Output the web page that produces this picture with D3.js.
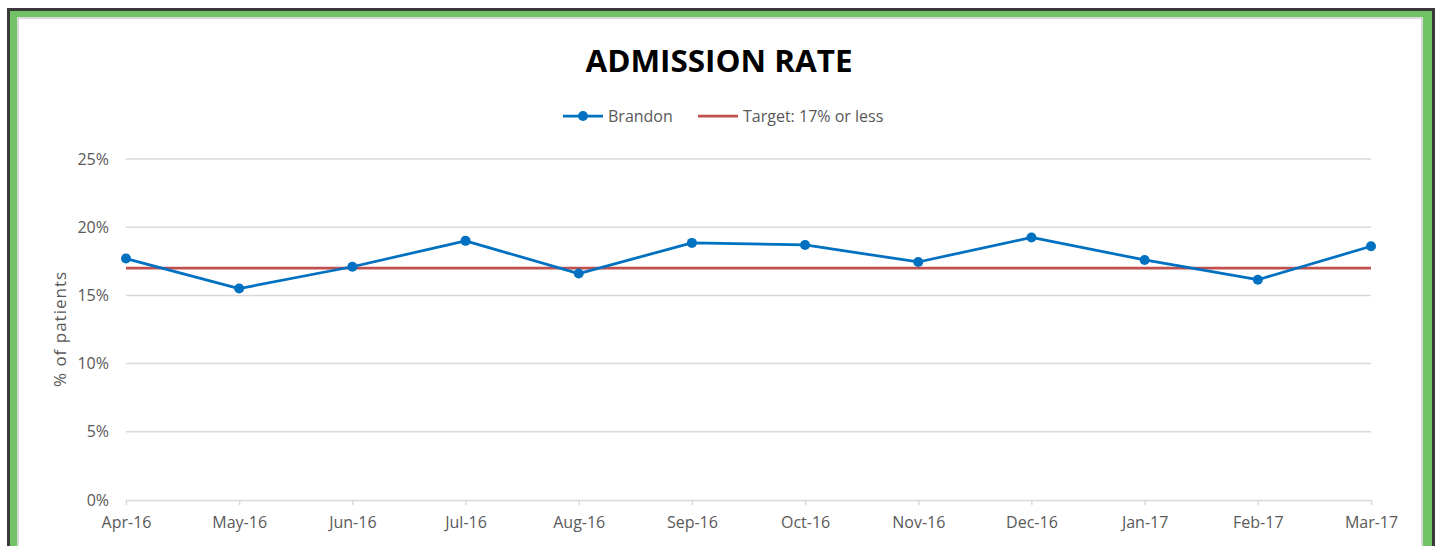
<!DOCTYPE html>
<html><head><meta charset="utf-8">
<script src="https://cdn.jsdelivr.net/npm/d3@7"></script>
<style>body{margin:0;background:#fff;overflow:hidden}svg{display:block}</style>
</head><body>
<svg id="c" width="1435" height="546"></svg>
<script>
const categories = ["Apr-16","May-16","Jun-16","Jul-16","Aug-16","Sep-16","Oct-16","Nov-16","Dec-16","Jan-17","Feb-17","Mar-17"];
const brandon = [17.7, 15.5, 17.1, 19.0, 16.6, 18.85, 18.7, 17.45, 19.25, 17.6, 16.15, 18.6];
const target = [17,17,17,17,17,17,17,17,17,17,17,17];
const yTicks = [0,5,10,15,20,25];
const seriesNames = ["Brandon","Target: 17% or less"];

const svg = d3.select("#c");
const font = "'Open Sans', 'Liberation Sans', sans-serif";
// frame
svg.append("rect").attr("x",7).attr("y",8).attr("width",1440).attr("height",560).attr("fill","#3a3a3a");
svg.append("rect").attr("x",10).attr("y",11).attr("width",1422).attr("height",560).attr("fill","#72c266");
svg.append("rect").attr("x",17).attr("y",17).attr("width",1406).attr("height",560).attr("fill","#d9d9d9");
svg.append("rect").attr("x",19).attr("y",19).attr("width",1402).attr("height",560).attr("fill","#ffffff");

const x = d3.scalePoint().domain(categories).range([126,1371]);
const y = d3.scaleLinear().domain([0,25]).range([500,159]);

// gridlines
svg.append("g").selectAll("line").data(yTicks.filter(d=>d>0)).join("line")
  .attr("x1",126).attr("x2",1371).attr("y1",d=>y(d)).attr("y2",d=>y(d))
  .attr("stroke","#d9d9d9").attr("stroke-width",1.5);

// y axis labels
const yAxis = svg.append("g").attr("transform","translate(126,0)")
  .call(d3.axisLeft(y).tickValues(yTicks).tickFormat(d=>d+"%").tickSize(0).tickPadding(17));
yAxis.select(".domain").remove();
yAxis.selectAll("text").attr("fill","#595959").style("font-family",font).style("font-size","16px");

// x axis
const xAxis = svg.append("g").attr("transform","translate(0,500)")
  .call(d3.axisBottom(x).tickSize(5).tickPadding(12).tickSizeOuter(0));
xAxis.select(".domain").attr("stroke","#d9d9d9").attr("stroke-width",1.5);
xAxis.selectAll(".tick line").attr("stroke","#d9d9d9").attr("stroke-width",1.5);
xAxis.selectAll("text").attr("fill","#595959").style("font-family",font).style("font-size","16px");

// y title
svg.append("text").attr("transform","translate(66,329) rotate(-90)").attr("text-anchor","middle")
  .attr("fill","#595959").style("font-family",font).style("font-size","17px").style("letter-spacing","1px").text("% of patients");

// title
svg.append("text").attr("x",719).attr("y",72).attr("text-anchor","middle")
  .style("font-family",font).style("font-weight","bold").style("font-size","30px")
  .attr("textLength",267).attr("lengthAdjust","spacingAndGlyphs").text("ADMISSION RATE");

// target line
const line = d3.line().x((d,i)=>x(categories[i])).y(d=>y(d));
svg.append("path").datum(target).attr("d",line).attr("fill","none").attr("stroke","#c0504d").attr("stroke-width",2.75);
// brandon
svg.append("path").datum(brandon).attr("d",line).attr("fill","none").attr("stroke","#0070c0").attr("stroke-width",2.75).attr("stroke-linejoin","round");
svg.append("g").selectAll("circle").data(brandon).join("circle")
  .attr("cx",(d,i)=>x(categories[i])).attr("cy",d=>y(d)).attr("r",5).attr("fill","#0070c0");

// legend
const lg = svg.append("g");
lg.append("line").attr("x1",563).attr("x2",603).attr("y1",116).attr("y2",116).attr("stroke","#0070c0").attr("stroke-width",2.75);
lg.append("circle").attr("cx",583).attr("cy",116).attr("r",5).attr("fill","#0070c0");
lg.append("text").attr("x",608).attr("y",122).attr("fill","#595959").style("font-family",font).style("font-size","16px").text(seriesNames[0]);
lg.append("line").attr("x1",698).attr("x2",738).attr("y1",116).attr("y2",116).attr("stroke","#c0504d").attr("stroke-width",2.75);
lg.append("text").attr("x",743).attr("y",122).attr("fill","#595959").style("font-family",font).style("font-size","16px").text(seriesNames[1]);
</script>
</body></html>
